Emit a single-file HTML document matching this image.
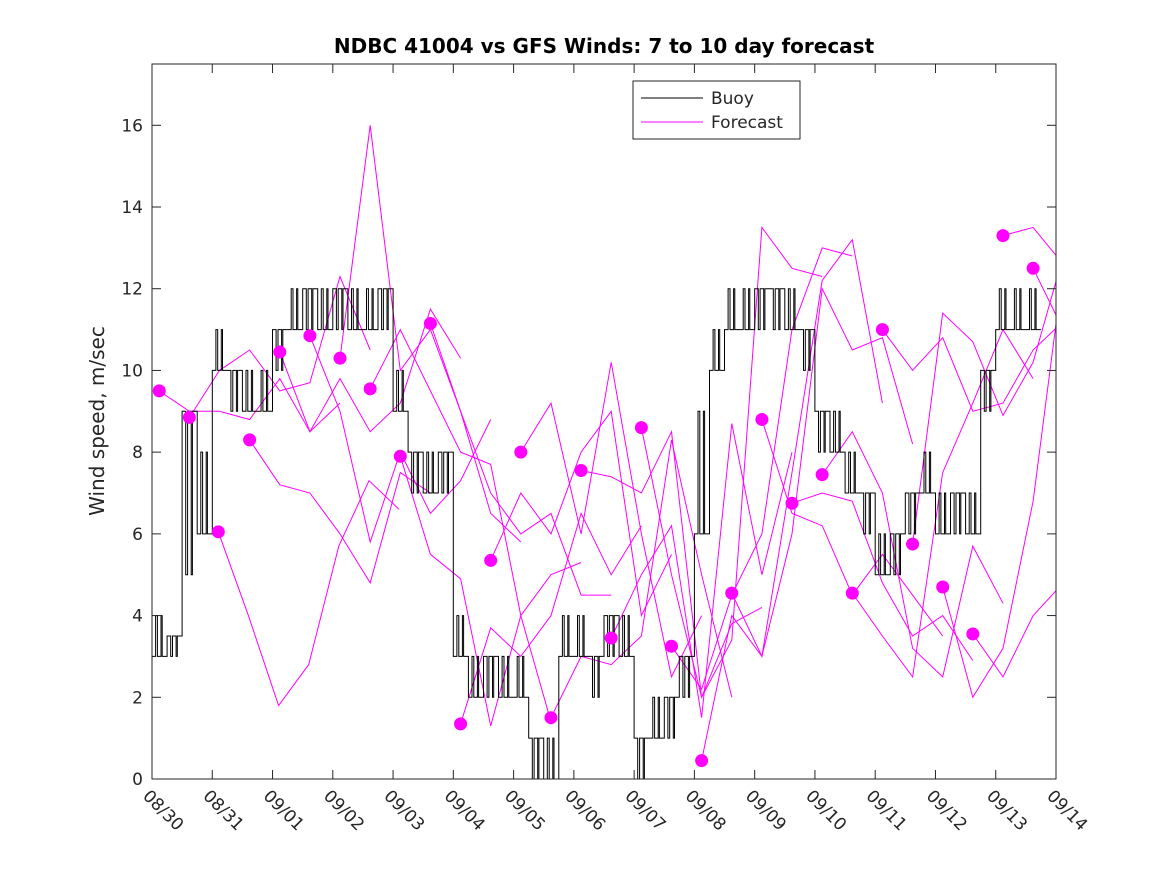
<!DOCTYPE html>
<html><head><meta charset="utf-8"><style>
body{margin:0;background:#fff}
svg text{font-family:"DejaVu Sans","Liberation Sans",sans-serif;fill:#262626}
</style></head><body>
<svg id="chart" width="1167" height="875" xmlns="http://www.w3.org/2000/svg">
<defs><clipPath id="clip"><rect x="152" y="64" width="904" height="715"/></clipPath></defs>
<rect x="0" y="0" width="1167" height="875" fill="#fff"/>
<text x="604" y="53" text-anchor="middle" font-size="20" font-weight="bold" style="fill:#000">NDBC 41004 vs GFS Winds: 7 to 10 day forecast</text>
<text transform="translate(104,421) rotate(-90)" text-anchor="middle" font-size="20">Wind speed, m/sec</text>
<g id="series" clip-path="url(#clip)"></g>
<g id="axes"></g>
<g>
<rect x="633" y="81" width="167" height="58" fill="#fff" stroke="#262626" stroke-width="1"/>
<line x1="641" y1="98" x2="703" y2="98" stroke="#000" stroke-width="1"/>
<text x="711" y="104" font-size="17">Buoy</text>
<line x1="641" y1="122" x2="703" y2="122" stroke="#ff00ff" stroke-width="1"/>
<text x="711" y="128" font-size="17">Forecast</text>
</g>
</svg>
<script>
const xTickLabels=["08/30","08/31","09/01","09/02","09/03","09/04","09/05","09/06","09/07","09/08","09/09","09/10","09/11","09/12","09/13","09/14"];
const yTicks=[0,2,4,6,8,10,12,14,16];
// buoy values every 6 hours from 08/30
const buoy=[3,3.5,9,6, 10,10,9,9, 11,11,12,11, 12,11,11,12, 9,8,7,8, 3,2,3,2, 2,1,0,3, 3,3,4,3, 1,1,2,3, 6,10,11,11, 12,12,11,11, 9,8,7,7, 5,6,7,7, 6,7,6,10, 11,11,11];
const buoyFlicker=[4,3,5,8, 11,9,10,10, 10,12,11,12, 11,12,12,11, 10,7,8,7, 4,3,2,3, 3,0,1,4, 4,2,3,4, 0,2,1,2, 9,11,12,12, 11,11,12,10, 8,9,8,6, 6,5,6,8, 7,6,7,9, 12,12,12];
const dotDays=[0.12,0.62,1.1,1.62,2.12,2.62,3.12,3.62,4.12,4.62,5.12,5.62,6.12,6.62,7.12,7.62,8.12,8.62,9.12,9.62,10.12,10.62,11.12,11.62,12.12,12.62,13.12,13.62,14.12,14.62];
const dotVals=[9.5,8.85,6.05,8.3,10.45,10.85,10.3,9.55,7.9,11.15,1.35,5.35,8.0,1.5,7.55,3.45,8.6,3.25,0.45,4.55,8.8,6.75,7.45,4.55,11.0,5.75,4.7,3.55,13.3,12.5];
// forecast traces, 12-hour steps starting at each dot
const fc=[
[9.5,9,9,8.8,9.8,8.5,9.2],[8.85,10,10.5,9.5,9.7,12.3,10.5],[6.05,4,1.8,2.8,5.7,7.3,6.6],[8.3,7.2,7,6,4.8,7.5,7],
[10.45,8.5,9.8,8.5,9.2,11.5,10.3],[10.85,9,5.8,8,6.5,7.3,8.8],[10.3,16,10,11,9,6.5,5.8],[9.55,11,9.5,8,7.7,4,1.4],
[7.9,5.5,4.9,1.3,4,5,5.3],[11.15,9,7,6,6.5,4.5,4.5],[1.35,3.7,3,4,6.5,5,6.2],[5.35,7,6,8,9,4,5.5],
[8,9.2,6,10.2,6,2.5,4],[1.5,3,2.8,3.5,8.3,5,2],[7.55,7.4,7,8.5,2,3.8,4.2],[3.45,5,6.2,1.5,8.7,5,8],
[8.6,5,2,3.4,13.5,12.5,12.3],[3.25,2.2,4.5,6,11,13,12.8],[0.45,4,3,7.5,12.2,13.2,9.2],[4.55,3,6,12,10.5,10.8,8.2],
[8.8,6.5,6.2,4.5,5.5,4.5,3.5],[6.75,7,6.8,4.8,3.5,4,2.9],[7.45,8.5,7,3.2,2.5,5.7,4.3],[4.55,3.5,2.5,7.5,9.2,11,9.8],
[11,10,10.8,9,9.2,10.5,11.2],[5.75,11.4,10.7,8.9,10.2,12.8,13.4],[4.7,2,3.2,6.8,12.5,13,11.5],[3.55,2.5,4,4.8,9.6,7,6.7],
[13.3,13.5,12.6,16.9,16.5],[12.5,11,11.8,13.1]
];
const X0=152,X1=1056,Y0=779,Y1=64,DAYS=15,YMAX=17.5;
const xs=d=>X0+(X1-X0)*d/DAYS;
const ys=v=>Y0-(Y0-Y1)*v/YMAX;
const NS="http://www.w3.org/2000/svg";
const ser=document.getElementById('series'),ax=document.getElementById('axes');
function mk(t,a,p){const e=document.createElementNS(NS,t);for(const k in a)e.setAttribute(k,a[k]);p.appendChild(e);return e;}
// forecast lines
fc.forEach((vals,i)=>{
 const pts=vals.map((v,j)=>xs(dotDays[i]+j*0.5).toFixed(1)+","+ys(v).toFixed(1)).join(" ");
 const pl=mk('polyline',{points:pts,fill:'none',stroke:'#ff00ff','stroke-width':1},ser);
 
 
});
// buoy step line with flicker
let d="";
buoy.forEach((v,i)=>{
 const t0=i*0.25, f=buoyFlicker[i];
 const seg=[[t0,v],[t0+0.06,f],[t0+0.09,v],[t0+0.15,f],[t0+0.17,v]];
 seg.forEach(([t,val],k)=>{d+=(i===0&&k===0?"M":"L")+xs(t).toFixed(1)+","+ys(val).toFixed(1)+"L"+xs(t+(k<4?(k===0?0.06:k===1?0.03:k===2?0.06:0.02):0.08)).toFixed(1)+","+ys(val).toFixed(1);});
});
const bl=mk('path',{d:d,fill:'none',stroke:'#000','stroke-width':1},ser);


dotDays.forEach((t,i)=>{
 const c=mk('circle',{cx:xs(t),cy:ys(dotVals[i]),r:6.5,fill:'#ff00ff'},ser);
 
 
});
// axes box
mk('rect',{x:X0,y:Y1,width:X1-X0,height:Y0-Y1,fill:'none',stroke:'#262626','stroke-width':1},ax);
yTicks.forEach(v=>{
 const y=ys(v);
 mk('line',{x1:X0,y1:y,x2:X0+9,y2:y,stroke:'#262626'},ax);
 mk('line',{x1:X1,y1:y,x2:X1-9,y2:y,stroke:'#262626'},ax);
 const t=mk('text',{x:X0-9,y:y+6,'text-anchor':'end','font-size':17},ax);t.textContent=v;
 
 
});
xTickLabels.forEach((l,i)=>{
 const x=xs(i);
 mk('line',{x1:x,y1:Y0,x2:x,y2:Y0-9,stroke:'#262626'},ax);
 mk('line',{x1:x,y1:Y1,x2:x,y2:Y1+9,stroke:'#262626'},ax);
 const t=mk('text',{transform:`translate(${x-10},${Y0+18}) rotate(45)`,'font-size':17},ax);t.textContent=l;
 
 
});
</script>
</body></html>
